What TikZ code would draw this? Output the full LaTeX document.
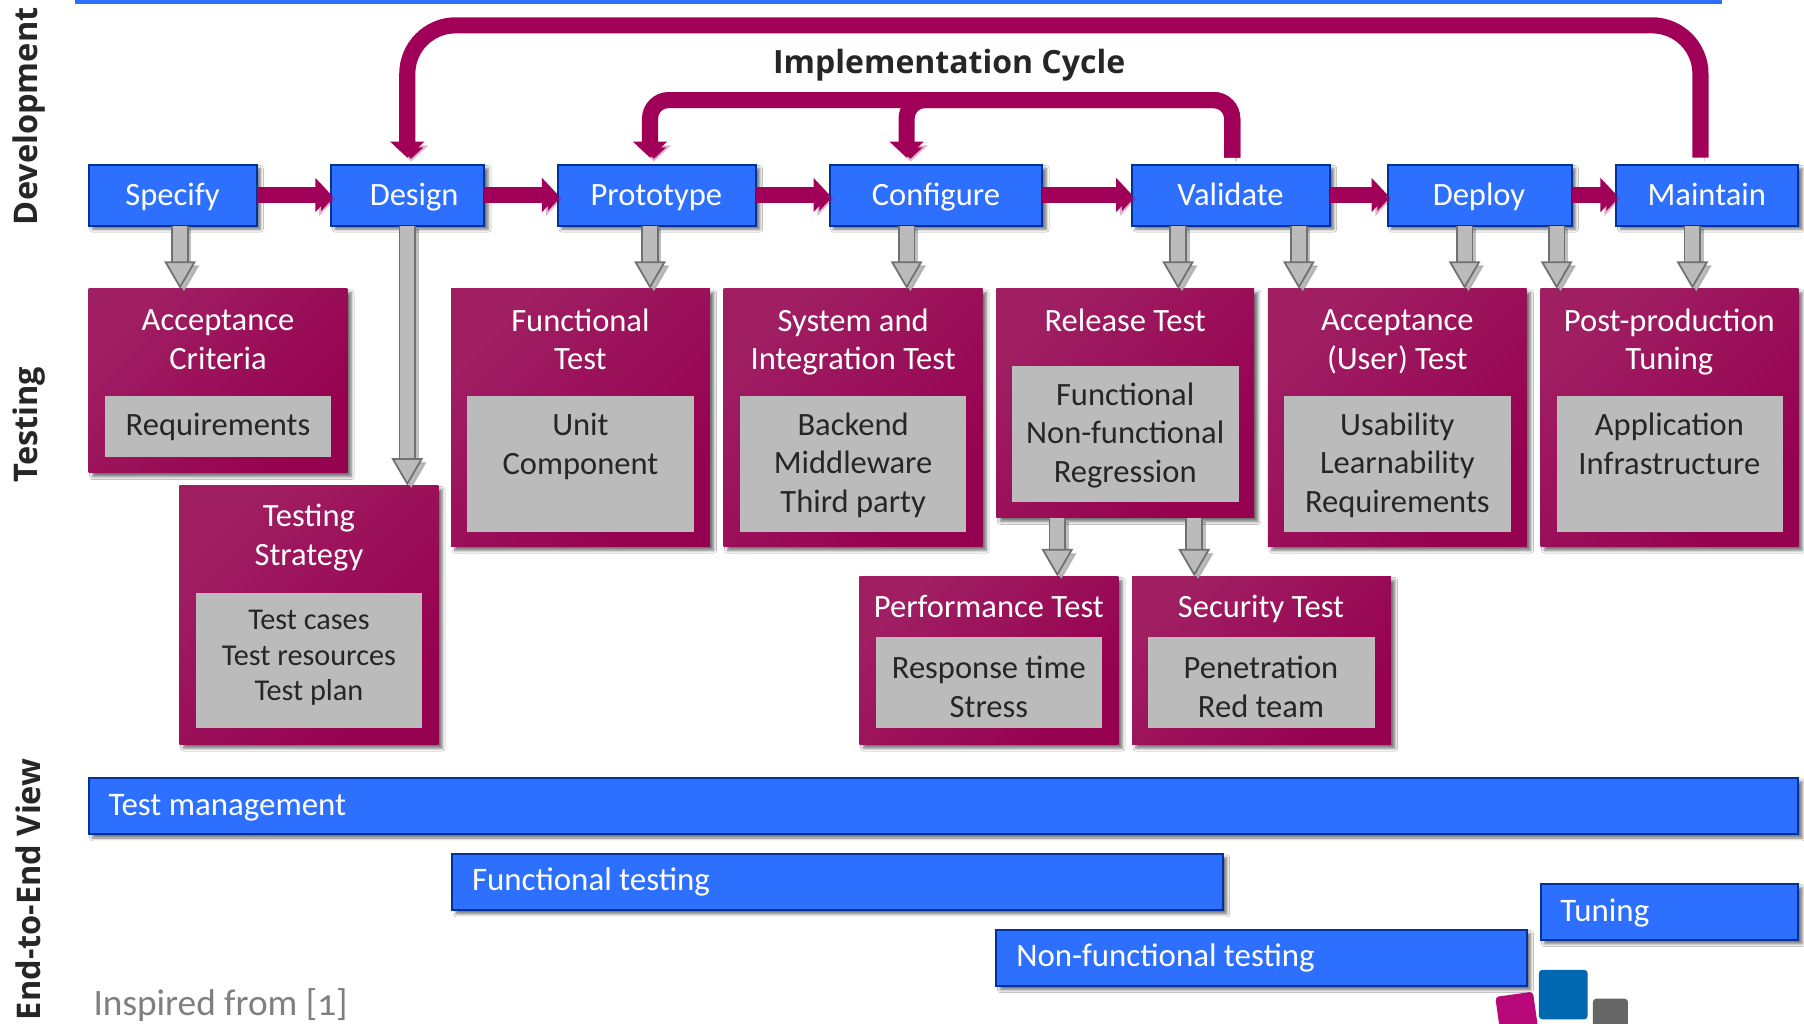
\documentclass[tikz,border=0pt]{standalone}
\usepackage{fontspec}
\setmainfont{Carlito}
\newfontfamily\headf{Open Sans}
\usetikzlibrary{arrows.meta,shadows.blur}
\definecolor{bfill}{HTML}{2D6FFF}
\definecolor{bline}{HTML}{00329A}
\definecolor{ginner}{HTML}{BBBBBB}
\definecolor{gline}{HTML}{707070}
\definecolor{darktxt}{HTML}{262626}
\definecolor{magmain}{HTML}{A10059}
\definecolor{mgA}{HTML}{A01F63}
\definecolor{mgB}{HTML}{AE005E}
\definecolor{mgC}{HTML}{95004F}
\definecolor{logoMag}{HTML}{B8087A}
\definecolor{logoBlue}{HTML}{0068B0}
\definecolor{logoGray}{HTML}{666666}
\definecolor{insp}{HTML}{7F7F7F}
\tikzset{
  softshadow/.style={blur shadow={shadow xshift=2.2pt,shadow yshift=-2.2pt,shadow blur radius=1.6pt,shadow opacity=55,shadow blur steps=5}},
  basebox/.style={rectangle,inner sep=0pt,outer sep=0pt},
  bluebox/.style={basebox,draw=bline,line width=0.04cm,fill=bfill,softshadow},
  magbox/.style={basebox,softshadow,top color=mgA,middle color=mgB,bottom color=mgC,shading angle=45},
  innerbox/.style={basebox,fill=ginner},
  strutted/.style={inner sep=0pt,execute at begin node=\strut,execute at end node=\strut},
  steptxt/.style={strutted,text=white,font=\fontsize{18.5}{22}\selectfont},
  ttl/.style={strutted,text=white,align=center,font=\fontsize{18.5}{22}\selectfont},
  inn/.style={strutted,text=darktxt,align=center,font=\fontsize{18.5}{22}\selectfont},
  innsmall/.style={strutted,text=darktxt,align=center,font=\fontsize{17.2}{20.2}\selectfont},
  bartxt/.style={strutted,anchor=west,text=white,font=\fontsize{18.7}{22}\selectfont},
  sidetxt/.style={inner sep=0pt,rotate=90,text=darktxt,font=\headf\bfseries\fontsize{18.5}{22}\selectfont},
  magflow/.style={draw=magmain,line width=0.322cm,-{Triangle[width=0.667cm,length=0.32cm,color=magmain]},
    preaction={draw=black,draw opacity=.3,transform canvas={shift={(2.2pt,-2.2pt)}}}},
  loopflow/.style={magflow,shorten <=0.138cm,shorten >=0.138cm},
  grayflow/.style={draw=gline,line width=0.035cm,double=ginner,double distance=0.28cm,
    -{Triangle[width=0.63cm,length=0.55cm,fill=ginner,color=gline,line width=0.035cm]},
    preaction={draw=black,draw opacity=.25,line width=0.3cm,double=none,transform canvas={shift={(2.2pt,-2.2pt)}}}},
}
\newcommand{\bx}[6]{%
  \pgfmathsetmacro{\bxw}{(#5-#3)*0.023}%
  \pgfmathsetmacro{\bxh}{(#6-#4)*0.023}%
  \pgfmathsetmacro{\bxcx}{(#3+#5)/2}%
  \pgfmathsetmacro{\bxcy}{(#4+#6)/2}%
  \node[#1,minimum width=\bxw cm,minimum height=\bxh cm] (#2) at (\bxcx,\bxcy) {};}
\begin{document}
\begin{tikzpicture}[x=0.023cm,y=-0.023cm]
\useasboundingbox (0,0) rectangle (1568,889.2);
\clip (0,0) rectangle (1568,889.2);
\fill[white] (0,0) rectangle (1568,889.2);
\fill[bfill] (65,0) rectangle (1497,3.2);

% side labels
\node[sidetxt] (lDev) at (25,101) {Development};
\node[sidetxt] (lTest) at (25,369) {Testing};
\node[sidetxt] (lEnd) at (25,773) {End-to-End View};
\node[inner sep=0pt,text=darktxt,font=\headf\bfseries\fontsize{18.2}{20}\selectfont] (lImpl) at (825,57) {Implementation Cycle};

% logo
\node[basebox,fill=logoMag,rounded corners=2pt,minimum width=0.76cm,minimum height=1.15cm,rotate=8] (logoM) at (1319.5,889) {};
\bx{basebox,fill=logoBlue,rounded corners=2pt}{logoB}{1337.5}{843}{1380}{886}
\bx{basebox,fill=logoGray,rounded corners=2pt}{logoG}{1384.5}{868}{1415}{910}

% testing boxes
\bx{magbox}{acc}{77}{251}{302}{411}
\bx{innerbox}{accI}{91}{344}{288}{397}
\bx{magbox}{strat}{156}{422}{381}{647}
\bx{innerbox}{stratI}{170}{515}{367}{633}
\bx{magbox}{func}{392}{251}{617}{475}
\bx{innerbox}{funcI}{406}{344}{603}{462}
\bx{magbox}{sys}{629}{251}{854}{475}
\bx{innerbox}{sysI}{643}{344}{840}{462}
\bx{magbox}{rel}{866}{251}{1090}{450}
\bx{innerbox}{relI}{880}{318}{1077}{436}
\bx{magbox}{user}{1102}{251}{1327}{475}
\bx{innerbox}{userI}{1116}{344}{1313}{462}
\bx{magbox}{post}{1339}{251}{1563}{475}
\bx{innerbox}{postI}{1353}{344}{1550}{462}
\bx{magbox}{perf}{747}{501}{972}{647}
\bx{innerbox}{perfI}{761}{554}{958}{633}
\bx{magbox}{sec}{984}{501}{1209}{647}
\bx{innerbox}{secI}{998}{554}{1195}{633}

% phase boxes
\bx{bluebox}{specify}{77}{143}{223}{196}
\bx{bluebox}{design}{288}{143}{421}{196}
\bx{bluebox}{proto}{485}{143}{657}{196}
\bx{bluebox}{config}{721}{143}{906}{196}
\bx{bluebox}{valid}{984}{143}{1156}{196}
\bx{bluebox}{deploy}{1206}{143}{1366}{196}
\bx{bluebox}{maint}{1405}{143}{1563}{196}

% bars
\bx{bluebox}{barA}{77}{676}{1563}{725}
\bx{bluebox}{barB}{393}{742}{1063}{791}
\bx{bluebox}{barC}{866}{808}{1327}{857}
\bx{bluebox}{barD}{1339}{768}{1563}{817}

% x positions of the connectors
\coordinate (xa) at (156.5,0);
\coordinate (xb) at (354,0);
\coordinate (xc) at (565,0);
\coordinate (xd) at (788,0);
\coordinate (xe) at (1024,0);
\coordinate (xf) at (1129,0);
\coordinate (xg) at (1273,0);
\coordinate (xh) at (1353,0);
\coordinate (xi) at (1471,0);
\coordinate (xj) at (919,0);
\coordinate (xk) at (1038,0);
\coordinate (xl) at (1071,0);
\coordinate (xm) at (1478,0);
\coordinate (ybig) at (0,22);
\coordinate (ysmall) at (0,87);

% gray connectors
\draw[grayflow] (xa |- specify.south) -- (xa |- acc.north);
\draw[grayflow] (xb |- design.south) -- (xb |- strat.north);
\draw[grayflow] (xc |- proto.south) -- (xc |- func.north);
\draw[grayflow] (xd |- config.south) -- (xd |- sys.north);
\draw[grayflow] (xe |- valid.south) -- (xe |- rel.north);
\draw[grayflow] (xf |- valid.south) -- (xf |- user.north);
\draw[grayflow] (xg |- deploy.south) -- (xg |- user.north);
\draw[grayflow] (xh |- deploy.south) -- (xh |- post.north);
\draw[grayflow] (xi |- maint.south) -- (xi |- post.north);
\draw[grayflow] (xj |- rel.south) -- (xj |- perf.north);
\draw[grayflow] (xk |- rel.south) -- (xk |- sec.north);

% magenta flow
\draw[magflow] (specify.east) -- (design.west);
\draw[magflow] (design.east) -- (proto.west);
\draw[magflow] (proto.east) -- (config.west);
\draw[magflow] (config.east) -- (valid.west);
\draw[magflow] (valid.east) -- (deploy.west);
\draw[magflow] (deploy.east) -- (maint.west);
\draw[loopflow,rounded corners=0.97cm] (xm |- maint.north) -- (xm |- ybig) -- (xb |- ybig) -- (xb |- design.north);
\draw[loopflow,rounded corners=0.37cm] (xl |- valid.north) -- (xl |- ysmall) -- (xc |- ysmall) -- (xc |- proto.north);
\draw[loopflow,rounded corners=0.37cm] (xl |- valid.north) -- (xl |- ysmall) -- (xd |- ysmall) -- (xd |- config.north);

% phase labels
\node[steptxt] (tSpecify) at (150,172) {Specify};
\node[steptxt] (tDesign) at (360,172) {Design};
\node[steptxt] (tProto) at (570.5,172) {Prototype};
\node[steptxt] (tConfig) at (813.5,172) {Configure};
\node[steptxt] (tValid) at (1069.5,172) {Validate};
\node[steptxt] (tDeploy) at (1285.5,172) {Deploy};
\node[steptxt] (tMaint) at (1483.5,172) {Maintain};

% box labels
\node[ttl] (tAcc) at (189.5,300) {Acceptance\\Criteria};
\node[inn] (tAccI) at (189.5,372) {Requirements};
\node[ttl] (tStrat) at (268.5,470) {Testing\\Strategy};
\node[innsmall] (tStratI) at (268.5,574.5) {Test cases\\Test resources\\Test plan};
\node[ttl] (tFunc) at (504.5,300) {Functional\\Test};
\node[inn] (tFuncI) at (504.5,390.5) {Unit\\Component};
\node[ttl] (tSys) at (741.5,300) {System and\\Integration Test};
\node[inn] (tSysI) at (741.5,407) {Backend\\Middleware\\Third party};
\node[ttl] (tRel) at (978,281) {Release Test};
\node[inn] (tRelI) at (978,381) {Functional\\Non-functional\\Regression};
\node[ttl] (tUser) at (1214.5,300) {Acceptance\\(User) Test};
\node[inn] (tUserI) at (1214.5,407) {Usability\\Learnability\\Requirements};
\node[ttl] (tPost) at (1451,300) {Post-production\\Tuning};
\node[inn] (tPostI) at (1451,390.5) {Application\\Infrastructure};
\node[ttl] (tPerf) at (859.5,530) {Performance Test};
\node[inn] (tPerfI) at (859.5,602) {Response time\\Stress};
\node[ttl] (tSec) at (1096,530) {Security Test};
\node[inn] (tSecI) at (1096,602) {Penetration\\Red team};

% bar labels
\node[bartxt] (tBarA) at (94,702) {Test management};
\node[bartxt] (tBarB) at (410,767) {Functional testing};
\node[bartxt] (tBarC) at (883,833) {Non-functional testing};
\node[bartxt] (tBarD) at (1356,794) {Tuning};
\node[strutted,anchor=west,text=insp,font=\fontsize{21.2}{25}\selectfont\addfontfeature{Numbers=OldStyle}] (tInsp) at (81,875) {Inspired from [1]};
\end{tikzpicture}
\end{document}
